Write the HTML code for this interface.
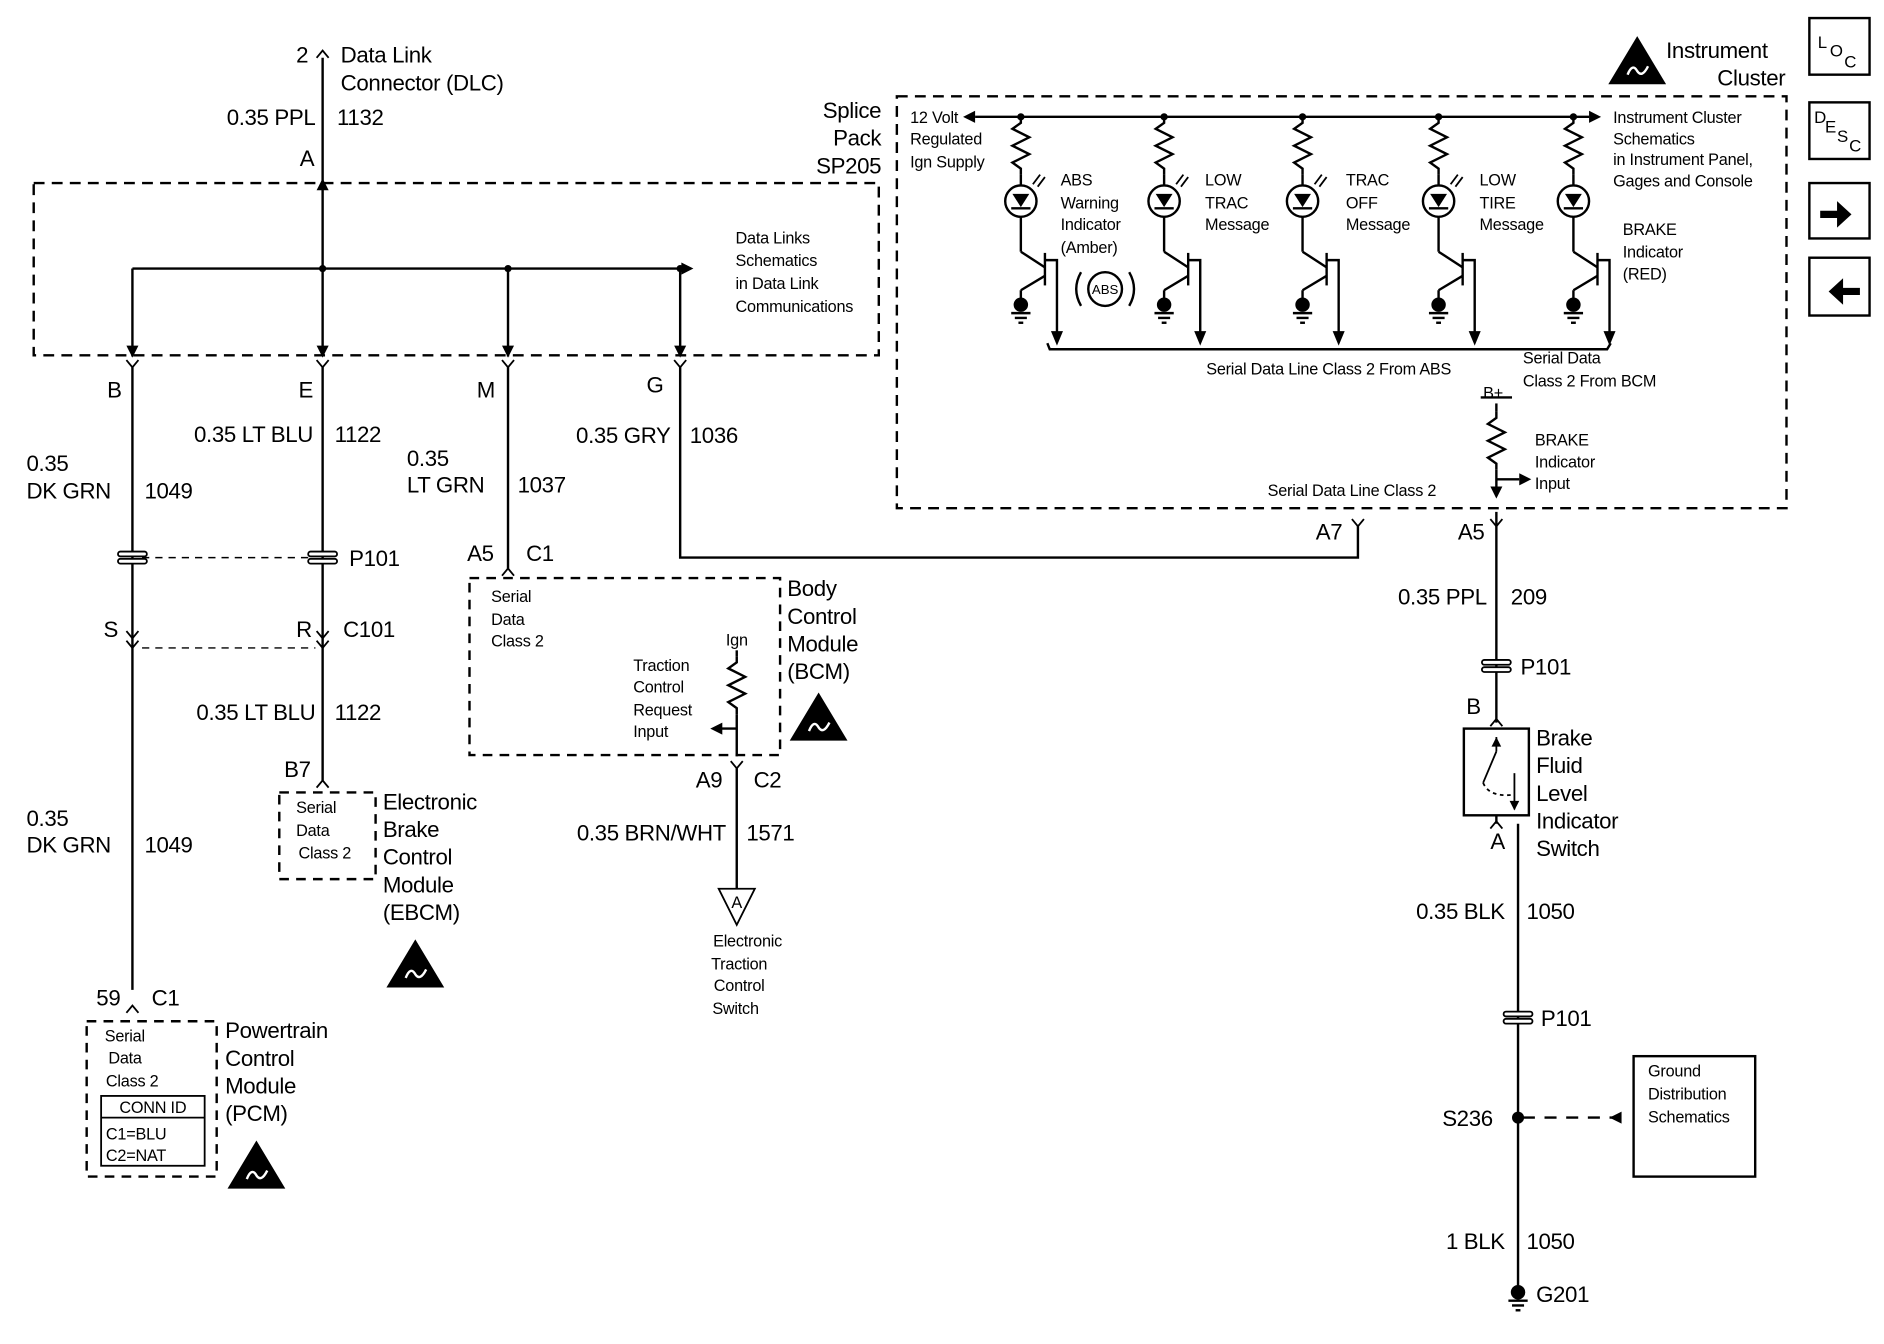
<!DOCTYPE html>
<html><head><meta charset="utf-8"><style>
html,body{margin:0;padding:0;background:#fff;}
svg{display:block;}
text{font-family:"Liberation Sans",Arial,sans-serif;fill:#000;}
.b{font-size:18.5px;letter-spacing:-0.3px;}
.s{font-size:13.5px;letter-spacing:-0.2px;}
.r{text-anchor:end;}
.m{text-anchor:middle;}
</style></head><body>
<svg width="1884" height="1344" viewBox="0 0 1565 1116" preserveAspectRatio="none" xmlns="http://www.w3.org/2000/svg">
<defs>
<g id="res"><polyline points="0,0 0,5 -7,10 7,17 -7,24 7,31 -7,38 0,43 0,48" fill="none" stroke="#000" stroke-width="2"/></g>
<g id="ydn"><polyline points="-5,-6 0,0 5,-6" fill="none" stroke="#000" stroke-width="1.5"/></g>
<g id="yup"><polyline points="-5,6 0,0 5,6" fill="none" stroke="#000" stroke-width="1.5"/></g>
<g id="conn"><rect x="-12" y="-5" width="24" height="4" rx="2" fill="#fff" stroke="#000" stroke-width="1.5"/><rect x="-12" y="1" width="24" height="4" rx="2" fill="#fff" stroke="#000" stroke-width="1.5"/></g>
<g id="esd"><polygon points="0,-28 -24,12 24,12" fill="#000"/><path d="M-8,4 q4,-10 8,-3 q4,6 9,-4" stroke="#fff" stroke-width="2" fill="none"/></g>
<g id="gnd"><circle cx="0" cy="0" r="6" fill="#000"/><line x1="-8" y1="7" x2="8" y2="7" stroke="#000" stroke-width="2"/><line x1="-5" y1="11" x2="5" y2="11" stroke="#000" stroke-width="2"/><line x1="-2" y1="15" x2="2" y2="15" stroke="#000" stroke-width="2"/></g>
<g id="ind">
 <use href="#res" y="0"/>
 <circle cx="0" cy="70" r="13" fill="none" stroke="#000" stroke-width="2"/>
 <polygon points="-7,64 7,64 0,75" fill="#000"/><line x1="-8" y1="76" x2="8" y2="76" stroke="#000" stroke-width="2"/>
 <line x1="0" y1="48" x2="0" y2="57" stroke="#000" stroke-width="2"/>
 <line x1="0" y1="83" x2="0" y2="112" stroke="#000" stroke-width="2"/>
 <line x1="0" y1="112" x2="20" y2="125" stroke="#000" stroke-width="2"/>
 <line x1="20" y1="113" x2="20" y2="140" stroke="#000" stroke-width="2"/>
 <line x1="20" y1="132" x2="0" y2="144" stroke="#000" stroke-width="2"/>
 <line x1="0" y1="144" x2="0" y2="152" stroke="#000" stroke-width="2"/>
 <use href="#gnd" y="156"/>
 <polyline points="20,119 30,119 30,180" fill="none" stroke="#000" stroke-width="2"/>
 <polygon points="25,178 35,178 30,190" fill="#000"/>
 <path d="M16,48 l-6,8 M20,50 l-6,8" stroke="#000" stroke-width="1.5"/>
</g>
</defs>
<g stroke="#000" stroke-width="2" fill="none">
<line x1="268" y1="48" x2="268" y2="150"/>
<line x1="268" y1="150" x2="268" y2="223"/>
<rect x="28" y="152" width="702" height="143" stroke-dasharray="9,6"/>
<line x1="110" y1="223" x2="566" y2="223"/>
<line x1="110" y1="223" x2="110" y2="296"/>
<line x1="268" y1="223" x2="268" y2="296"/>
<line x1="422" y1="223" x2="422" y2="296"/>
<line x1="565" y1="223" x2="565" y2="296"/>
<line x1="110" y1="305" x2="110" y2="822"/>
<line x1="268" y1="305" x2="268" y2="648"/>
<line x1="422" y1="305" x2="422" y2="472"/>
<polyline points="565,305 565,463 1128,463 1128,437"/>
<line x1="118" y1="463" x2="258" y2="463" stroke-dasharray="6,5" stroke-width="1.2"/>
<line x1="118" y1="538" x2="262" y2="538" stroke-dasharray="6,5" stroke-width="1.2"/>
<rect x="232" y="658" width="80" height="72" stroke-dasharray="8,6"/>
<rect x="72" y="848" width="108" height="129" stroke-dasharray="8,6"/>
<rect x="84" y="910" width="86" height="58" stroke-width="1.5"/>
<line x1="84" y1="928" x2="170" y2="928" stroke-width="1.5"/>
<rect x="390" y="480" width="258" height="147" stroke-dasharray="8,6"/>
<line x1="612" y1="540" x2="612" y2="545"/>
<line x1="612" y1="593" x2="612" y2="628"/>
<line x1="612" y1="638" x2="612" y2="738"/>
<line x1="598" y1="605" x2="612" y2="605"/>
<polygon points="597,738 627,738 612,768" stroke-width="1.5"/>
<rect x="745" y="80" width="739" height="342" stroke-dasharray="9,6"/>
<line x1="810" y1="97" x2="1320" y2="97"/>
<polyline points="870,285 872,290 1335,290 1338,285"/>
<line x1="1243" y1="335" x2="1243" y2="342"/>
<line x1="1243" y1="390" x2="1243" y2="412"/>
<line x1="1243" y1="398" x2="1262" y2="398"/>
<line x1="1243" y1="425" x2="1243" y2="600"/>
<rect x="1216" y="605" width="54" height="72"/>
<line x1="1243" y1="677" x2="1243" y2="684"/>
<line x1="1261" y1="684" x2="1261" y2="1072"/>
<line x1="1265" y1="928" x2="1340" y2="928" stroke-dasharray="10,8"/>
<rect x="1357" y="877" width="101" height="100"/>
<line x1="1230" y1="330" x2="1256" y2="330"/>
<rect x="1503" y="15" width="50" height="47"/>
<rect x="1503" y="85" width="50" height="47"/>
<rect x="1503" y="152" width="50" height="46"/>
<rect x="1503" y="214" width="50" height="48"/>
<line x1="1243" y1="612" x2="1243" y2="624" stroke-width="1.5"/>
<line x1="1243" y1="624" x2="1232" y2="650" stroke-width="1.5"/>
<path d="M1232,650 q5,12 24,10" stroke-width="1.5" stroke-dasharray="3,3"/>
<line x1="1258" y1="642" x2="1258" y2="672" stroke-width="1.5"/>
<circle cx="918" cy="240" r="14"/>
<path d="M898,226 q-8,14 0,28 M938,226 q8,14 0,28"/>
</g>
<g fill="#000">
<polygon points="263,158 273,158 268,148"/>
<polygon points="566,218 566,228 576,223"/>
<polygon points="105,287 115,287 110,297"/><polygon points="263,287 273,287 268,297"/>
<polygon points="417,287 427,287 422,297"/><polygon points="560,287 570,287 565,297"/>
<polygon points="600,600 600,610 590,605"/>
<polygon points="810,92 810,102 800,97"/><polygon points="1320,92 1320,102 1330,97"/>
<polygon points="1262,393 1262,403 1272,398"/>
<polygon points="1238,404 1248,404 1243,414"/>
<polygon points="1239,620 1247,620 1243,612"/>
<polygon points="1254,665 1262,665 1258,673"/>
<circle cx="268" cy="223" r="3"/><circle cx="422" cy="223" r="3"/><circle cx="565" cy="223" r="3"/>
<circle cx="848" cy="97" r="3"/><circle cx="967" cy="97" r="3"/><circle cx="1082" cy="97" r="3"/><circle cx="1195" cy="97" r="3"/><circle cx="1307" cy="97" r="3"/>
<circle cx="1261" cy="928" r="5"/>
<polygon points="1347,923 1347,933 1337,928"/>
<path d="M1512,175 h14 v-8 l12,11 -12,11 v-8 h-14z"/>
<path d="M1545,239 h-14 v-8 l-12,11 12,11 v-8 h14z"/>
</g>
<use href="#ydn" x="110" y="305"/><use href="#ydn" x="268" y="305"/><use href="#ydn" x="422" y="305"/><use href="#ydn" x="565" y="305"/>
<use href="#ydn" x="110" y="538"/><use href="#ydn" x="268" y="538"/><use href="#ydn" x="612" y="638"/>
<use href="#ydn" x="1128" y="437"/><use href="#ydn" x="1243" y="437"/>
<use href="#yup" x="268" y="42"/><use href="#yup" x="268" y="648"/><use href="#yup" x="110" y="835"/><use href="#yup" x="422" y="472"/>
<use href="#yup" x="1243" y="597"/><use href="#yup" x="1243" y="682"/>
<use href="#ydn" x="110" y="530"/><use href="#ydn" x="268" y="530"/>
<use href="#conn" x="110" y="463"/><use href="#conn" x="268" y="463"/><use href="#conn" x="1243" y="553"/><use href="#conn" x="1261" y="845"/>
<use href="#res" x="612" y="545"/><use href="#res" x="1243" y="342"/>
<use href="#gnd" x="1261" y="1073"/>
<use href="#ind" x="848" y="97"/><use href="#ind" x="967" y="97"/><use href="#ind" x="1082" y="97"/><use href="#ind" x="1195" y="97"/>
<use href="#res" x="1307" y="97"/>
<g stroke="#000" stroke-width="2" fill="none"><circle cx="1307" cy="167" r="13"/><line x1="1307" y1="145" x2="1307" y2="154"/><line x1="1307" y1="180" x2="1307" y2="209"/><line x1="1307" y1="209" x2="1327" y2="222"/><line x1="1327" y1="210" x2="1327" y2="237"/><line x1="1327" y1="229" x2="1307" y2="241"/><line x1="1307" y1="241" x2="1307" y2="249"/><polyline points="1327,216 1337,216 1337,277"/><line x1="1299" y1="173" x2="1315" y2="173"/></g>
<polygon points="1300,161 1314,161 1307,172" fill="#000"/><polygon points="1332,275 1342,275 1337,287" fill="#000"/>
<use href="#gnd" x="1307" y="253"/>
<use href="#esd" x="1360" y="58"/><use href="#esd" x="345" y="808"/><use href="#esd" x="680" y="603"/><use href="#esd" x="213" y="975"/>

<text class="b" x="246" y="52">2</text>
<text class="b" x="283" y="52">Data Link</text>
<text class="b" x="283" y="75">Connector (DLC)</text>
<text class="b r" x="262" y="104">0.35 PPL</text><text class="b" x="280" y="104">1132</text>
<text class="b" x="249" y="138">A</text>
<text class="b r" x="732" y="98">Splice</text><text class="b r" x="732" y="121">Pack</text><text class="b r" x="732" y="144">SP205</text>
<text class="s" x="611" y="202">Data Links</text><text class="s" x="611" y="221">Schematics</text><text class="s" x="611" y="240">in Data Link</text><text class="s" x="611" y="259">Communications</text>
<text class="b" x="89" y="330">B</text><text class="b" x="248" y="330">E</text><text class="b" x="396" y="330">M</text><text class="b" x="537" y="326">G</text>
<text class="b" x="22" y="391">0.35</text><text class="b" x="22" y="414">DK GRN</text><text class="b" x="120" y="414">1049</text>
<text class="b r" x="260" y="367">0.35 LT BLU</text><text class="b" x="278" y="367">1122</text>
<text class="b" x="338" y="387">0.35</text><text class="b" x="338" y="409">LT GRN</text><text class="b" x="430" y="409">1037</text>
<text class="b r" x="557" y="368">0.35 GRY</text><text class="b" x="573" y="368">1036</text>
<text class="b" x="290" y="470">P101</text>
<text class="b" x="86" y="529">S</text><text class="b" x="246" y="529">R</text><text class="b" x="285" y="529">C101</text>
<text class="b r" x="262" y="598">0.35 LT BLU</text><text class="b" x="278" y="598">1122</text>
<text class="b" x="236" y="645">B7</text>
<text class="s" x="246" y="675">Serial</text><text class="s" x="246" y="694">Data</text><text class="s" x="248" y="713">Class 2</text>
<text class="b" x="318" y="672">Electronic</text><text class="b" x="318" y="695">Brake</text><text class="b" x="318" y="718">Control</text><text class="b" x="318" y="741">Module</text><text class="b" x="318" y="764">(EBCM)</text>
<text class="b" x="22" y="686">0.35</text><text class="b" x="22" y="708">DK GRN</text><text class="b" x="120" y="708">1049</text>
<text class="b" x="80" y="835">59</text><text class="b" x="126" y="835">C1</text>
<text class="s" x="87" y="865">Serial</text><text class="s" x="90" y="883">Data</text><text class="s" x="88" y="902">Class 2</text>
<text class="s m" x="127" y="924">CONN ID</text><text class="s" x="88" y="946">C1=BLU</text><text class="s" x="88" y="964">C2=NAT</text>
<text class="b" x="187" y="862">Powertrain</text><text class="b" x="187" y="885">Control</text><text class="b" x="187" y="908">Module</text><text class="b" x="187" y="931">(PCM)</text>
<text class="b" x="388" y="466">A5</text><text class="b" x="437" y="466">C1</text>
<text class="s" x="408" y="500">Serial</text><text class="s" x="408" y="519">Data</text><text class="s" x="408" y="537">Class 2</text>
<text class="s" x="603" y="536">Ign</text>
<text class="s" x="526" y="557">Traction</text><text class="s" x="526" y="575">Control</text><text class="s" x="526" y="594">Request</text><text class="s" x="526" y="612">Input</text>
<text class="b" x="654" y="495">Body</text><text class="b" x="654" y="518">Control</text><text class="b" x="654" y="541">Module</text><text class="b" x="654" y="564">(BCM)</text>
<text class="b" x="578" y="654">A9</text><text class="b" x="626" y="654">C2</text>
<text class="b r" x="603" y="698">0.35 BRN/WHT</text><text class="b" x="620" y="698">1571</text>
<text class="s m" x="612" y="754">A</text>
<text class="s m" x="621" y="786">Electronic</text><text class="s m" x="614" y="805">Traction</text><text class="s m" x="614" y="823">Control</text><text class="s m" x="611" y="842">Switch</text>
<text class="b" x="1384" y="48">Instrument</text><text class="b r" x="1483" y="71">Cluster</text>
<text style="font-size:14px" x="1510" y="40">L</text><text style="font-size:14px" x="1520" y="47">O</text><text style="font-size:14px" x="1532" y="56">C</text>
<text style="font-size:14px" x="1507" y="102">D</text><text style="font-size:14px" x="1516" y="110">E</text><text style="font-size:14px" x="1526" y="118">S</text><text style="font-size:14px" x="1536" y="126">C</text>
<text class="s" x="756" y="102">12 Volt</text><text class="s" x="756" y="120">Regulated</text><text class="s" x="756" y="139">Ign Supply</text>
<text class="s" x="1340" y="102">Instrument Cluster</text><text class="s" x="1340" y="120">Schematics</text><text class="s" x="1340" y="137">in Instrument Panel,</text><text class="s" x="1340" y="155">Gages and Console</text>
<text class="s" x="881" y="154">ABS</text><text class="s" x="881" y="173">Warning</text><text class="s" x="881" y="191">Indicator</text><text class="s" x="881" y="210">(Amber)</text>
<text style="font-size:11px" class="m" x="918" y="244">ABS</text>
<text class="s" x="1001" y="154">LOW</text><text class="s" x="1001" y="173">TRAC</text><text class="s" x="1001" y="191">Message</text>
<text class="s" x="1118" y="154">TRAC</text><text class="s" x="1118" y="173">OFF</text><text class="s" x="1118" y="191">Message</text>
<text class="s" x="1229" y="154">LOW</text><text class="s" x="1229" y="173">TIRE</text><text class="s" x="1229" y="191">Message</text>
<text class="s" x="1348" y="195">BRAKE</text><text class="s" x="1348" y="214">Indicator</text><text class="s" x="1348" y="232">(RED)</text>
<text class="s" x="1002" y="311">Serial Data Line Class 2 From ABS</text>
<text class="s" x="1265" y="302">Serial Data</text><text class="s" x="1265" y="321">Class 2 From BCM</text>
<text class="s" x="1232" y="331">B+</text>
<text class="s" x="1275" y="370">BRAKE</text><text class="s" x="1275" y="388">Indicator</text><text class="s" x="1275" y="406">Input</text>
<text class="s" x="1053" y="412">Serial Data Line Class 2</text>
<text class="b" x="1093" y="448">A7</text><text class="b" x="1211" y="448">A5</text>
<text class="b r" x="1235" y="502">0.35 PPL</text><text class="b" x="1255" y="502">209</text>
<text class="b" x="1263" y="560">P101</text>
<text class="b" x="1218" y="593">B</text>
<text class="b" x="1276" y="619">Brake</text><text class="b" x="1276" y="642">Fluid</text><text class="b" x="1276" y="665">Level</text><text class="b" x="1276" y="688">Indicator</text><text class="b" x="1276" y="711">Switch</text>
<text class="b" x="1238" y="705">A</text>
<text class="b r" x="1250" y="763">0.35 BLK</text><text class="b" x="1268" y="763">1050</text>
<text class="b" x="1280" y="852">P101</text>
<text class="b" x="1198" y="935">S236</text>
<text class="s" x="1369" y="894">Ground</text><text class="s" x="1369" y="913">Distribution</text><text class="s" x="1369" y="932">Schematics</text>
<text class="b r" x="1250" y="1037">1 BLK</text><text class="b" x="1268" y="1037">1050</text>
<text class="b" x="1276" y="1081">G201</text>
</svg>
</body></html>
